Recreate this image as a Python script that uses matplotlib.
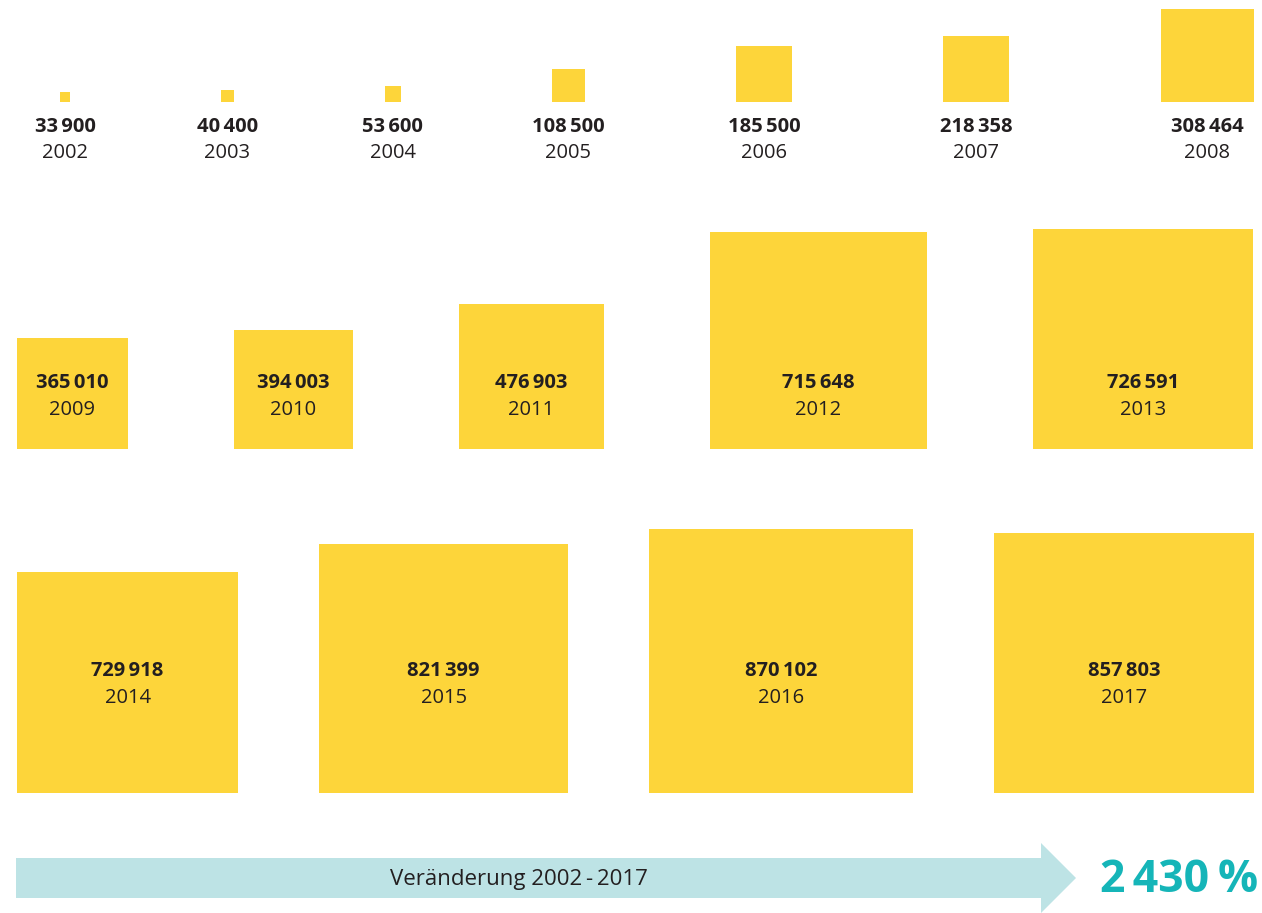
import matplotlib.pyplot as plt
from matplotlib.patches import Rectangle, Polygon

# data
years = list(range(2002, 2018))
values = [33900, 40400, 53600, 108500, 185500, 218358, 308464,
          365010, 394003, 476903, 715648, 726591,
          729918, 821399, 870102, 857803]
rows = [years[0:7], years[7:12], years[12:16]]
arrow_label = "Veränderung 2002\u2006-\u20062017"

yellow = "#FDD53A"
dark = "#231f20"
teal = "#15b5b8"
band = "#bde3e5"
fam = ["Open Sans", "DejaVu Sans"]

W, H = 1262, 913
fig = plt.figure(figsize=(W / 100, H / 100), dpi=100)
ax = fig.add_axes([0, 0, 1, 1])
ax.set_xlim(0, W)
ax.set_ylim(H, 0)
ax.axis("off")

scale = 260 / max(values[-1], 1)  # side length proportional to value
val = dict(zip(years, values))


def fmt(v):
    return f"{v:,}".replace(",", "\u2006")


# row layout: (left, right, square bottom, number label y, year label y)
layout = [(60, 1254, 102, 127, 153),
          (17, 1253, 449, 383, 410),
          (17, 1254, 793, 671, 698)]

for row, (left, right, bottom, ly1, ly2) in zip(rows, layout):
    sides = [val[y] * scale for y in row]
    gap = (right - left - sum(sides)) / (len(row) - 1)
    x = left
    for yr, s in zip(row, sides):
        ax.add_patch(Rectangle((x, bottom - s), s, s, color=yellow, lw=0))
        cx = x + s / 2
        ax.text(cx, ly1, fmt(val[yr]), ha="center", va="center",
                fontsize=14.5, fontweight="bold", color=dark, family=fam)
        ax.text(cx, ly2, str(yr), ha="center", va="center",
                fontsize=14.5, color=dark, family=fam)
        x += s + gap

# arrow
ax.add_patch(Polygon([(16, 858), (1041, 858), (1041, 843), (1076, 878),
                      (1041, 913), (1041, 898), (16, 898)],
                     closed=True, color=band, lw=0))
ax.text(519, 879, arrow_label, ha="center", va="center",
        fontsize=16, color=dark, family=fam)

change = round((values[-1] / values[0] - 1) * 100)
ax.text(1258, 880, fmt(change) + "\u2009%", ha="right", va="center",
        fontsize=32, fontweight="bold", color=teal, family=fam)

fig.savefig("out.png", dpi=100)
